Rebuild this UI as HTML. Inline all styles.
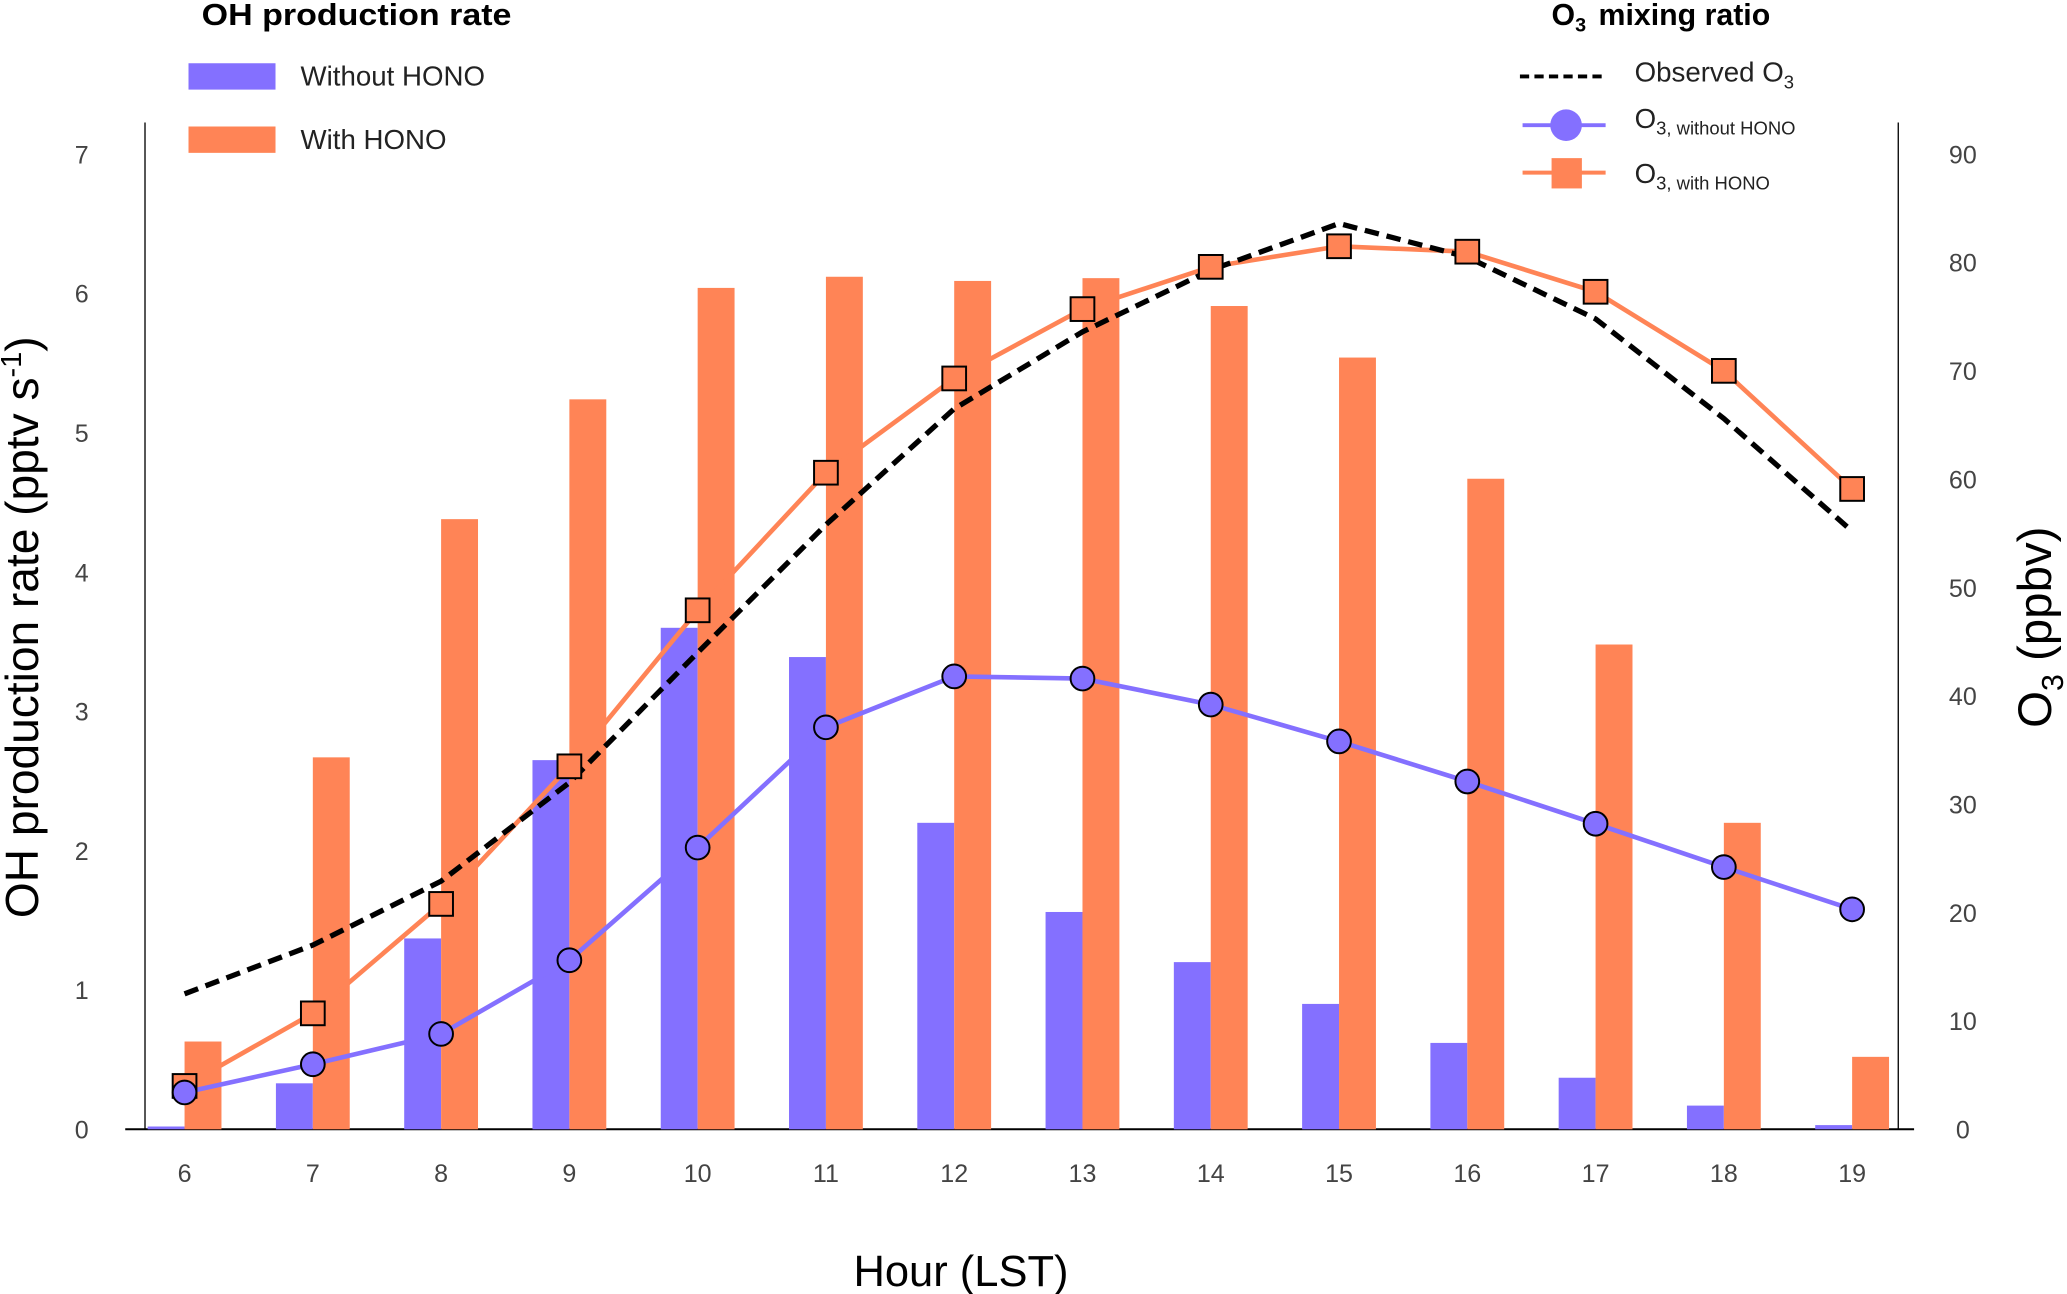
<!DOCTYPE html>
<html><head><meta charset="utf-8"><style>
html,body{margin:0;padding:0;background:#fff;}
svg{display:block;font-family:"Liberation Sans","DejaVu Sans",sans-serif;}
</style></head><body>
<svg id="chart" width="2067" height="1294" viewBox="0 0 1568 982" preserveAspectRatio="none" xmlns="http://www.w3.org/2000/svg">
<g id="axes"></g>
<g id="bars"></g>
<g id="lines"></g>
<g>
<text x="153" y="19" font-size="23" font-weight="bold" fill="#000" textLength="235" lengthAdjust="spacingAndGlyphs">OH production rate</text>
<rect x="143" y="48" width="66" height="20" fill="#8470FF"/>
<text x="228" y="65" font-size="21" fill="#222">Without HONO</text>
<rect x="143" y="96" width="66" height="20" fill="#FF8456"/>
<text x="228" y="113" font-size="21" fill="#222">With HONO</text>
</g>
<g>
<text x="1177" y="19" font-size="23" font-weight="bold" fill="#000">O<tspan font-size="15" dy="5">3</tspan><tspan dy="-5" dx="3"> mixing ratio</tspan></text>
<line x1="1153" y1="58" x2="1217" y2="58" stroke="#000" stroke-width="3" stroke-dasharray="7,4"/>
<text x="1240" y="62" font-size="21" fill="#222">Observed O<tspan font-size="14" dy="5">3</tspan></text>
<line x1="1155" y1="95" x2="1218" y2="95" stroke="#8470FF" stroke-width="3"/>
<circle cx="1188" cy="95" r="12" fill="#8470FF"/>
<text x="1240" y="97" font-size="21" fill="#222">O<tspan font-size="14" dy="5">3, without HONO</tspan></text>
<line x1="1155" y1="131" x2="1218" y2="131" stroke="#FF8456" stroke-width="3"/>
<rect x="1177" y="120" width="23" height="23" fill="#FF8456"/>
<text x="1240" y="139" font-size="21" fill="#222">O<tspan font-size="14" dy="5">3, with HONO</tspan></text>
</g>
<text x="0" y="0" transform="translate(29,476) rotate(-90)" text-anchor="middle" font-size="35" fill="#000">OH production rate (pptv s<tspan font-size="22" dy="-13">-1</tspan><tspan dy="13">)</tspan></text>
<text x="0" y="0" transform="translate(1556,476) rotate(-90)" text-anchor="middle" font-size="36" fill="#000">O<tspan font-size="23" dy="9">3</tspan><tspan dy="-9"> (ppbv)</tspan></text>
<text x="729" y="976" text-anchor="middle" font-size="33" fill="#000">Hour (LST)</text>
</svg>
<script>
const hours=[6,7,8,9,10,11,12,13,14,15,16,17,18,19];
const ohWithout=[0.02,0.33,1.37,2.65,3.6,3.39,2.2,1.56,1.2,0.9,0.62,0.37,0.17,0.03];
const ohWith=[0.63,2.67,4.38,5.24,6.04,6.12,6.09,6.11,5.91,5.54,4.67,3.48,2.2,0.52];
const o3Observed=[12.5,17,22.9,32,44,55.8,66.5,73.6,79.3,83.6,80.5,74.8,65.6,55.2];
const o3With=[4,10.7,20.8,33.5,47.9,60.6,69.3,75.7,79.6,81.5,81,77.3,70,59.1];
const o3Without=[3.4,6,8.8,15.6,26,37.1,41.8,41.6,39.2,35.8,32.1,28.2,24.2,20.3];
const leftTicks=[0,1,2,3,4,5,6,7];
const rightTicks=[0,10,20,30,40,50,60,70,80,90];

const NS="http://www.w3.org/2000/svg";
const xs=h=>140+(h-6)*(1405-140)/13;
const yl=v=>857-v*(857-117)/7;
const yr=v=>857-v*(857-117)/90;
function mk(tag,attrs,parent){const e=document.createElementNS(NS,tag);for(const k in attrs)e.setAttribute(k,attrs[k]);parent.appendChild(e);return e;}
const axes=document.getElementById('axes'),bars=document.getElementById('bars'),lines=document.getElementById('lines');

let e;
e=mk('line',{x1:110,y1:93,x2:110,y2:857,stroke:'#000','stroke-width':1},axes);


e=mk('line',{x1:1440,y1:93,x2:1440,y2:857,stroke:'#000','stroke-width':1},axes);


e=mk('line',{x1:95,y1:857,x2:1452,y2:857,stroke:'#000','stroke-width':1.5},axes);


leftTicks.forEach(t=>{
  e=mk('text',{x:62,y:yl(t)+7,'text-anchor':'middle','font-size':19,fill:'#444'},axes);
  e.textContent=t;
  
  
});
rightTicks.forEach(t=>{
  e=mk('text',{x:1489,y:yr(t)+7,'text-anchor':'middle','font-size':19,fill:'#444'},axes);
  e.textContent=t;
  
  
});
hours.forEach(h=>{
  e=mk('text',{x:xs(h),y:897,'text-anchor':'middle','font-size':19,fill:'#444'},axes);
  e.textContent=h;
  
  
});
hours.forEach((h,i)=>{
  e=mk('rect',{x:xs(h)-28,y:yl(ohWithout[i]),width:28,height:857-yl(ohWithout[i]),fill:'#8470FF'},bars);
  
  
  e=mk('rect',{x:xs(h),y:yl(ohWith[i]),width:28,height:857-yl(ohWith[i]),fill:'#FF8456'},bars);
  
  
});
const pts=arr=>hours.map((h,i)=>xs(h)+','+yr(arr[i])).join(' ');
e=mk('polyline',{points:pts(o3With),fill:'none',stroke:'#FF8456','stroke-width':3.5},lines);


e=mk('polyline',{points:pts(o3Without),fill:'none',stroke:'#8470FF','stroke-width':3.5},lines);


e=mk('polyline',{points:pts(o3Observed),fill:'none',stroke:'#000','stroke-width':4,'stroke-dasharray':'11,6'},lines);


hours.forEach((h,i)=>{
  e=mk('rect',{x:xs(h)-9,y:yr(o3With[i])-9,width:18,height:18,fill:'#FF8456',stroke:'#000','stroke-width':1.5},lines);
  
  
  e=mk('circle',{cx:xs(h),cy:yr(o3Without[i]),r:9,fill:'#8470FF',stroke:'#000','stroke-width':1.5},lines);
  
  
});
</script>
</body></html>
